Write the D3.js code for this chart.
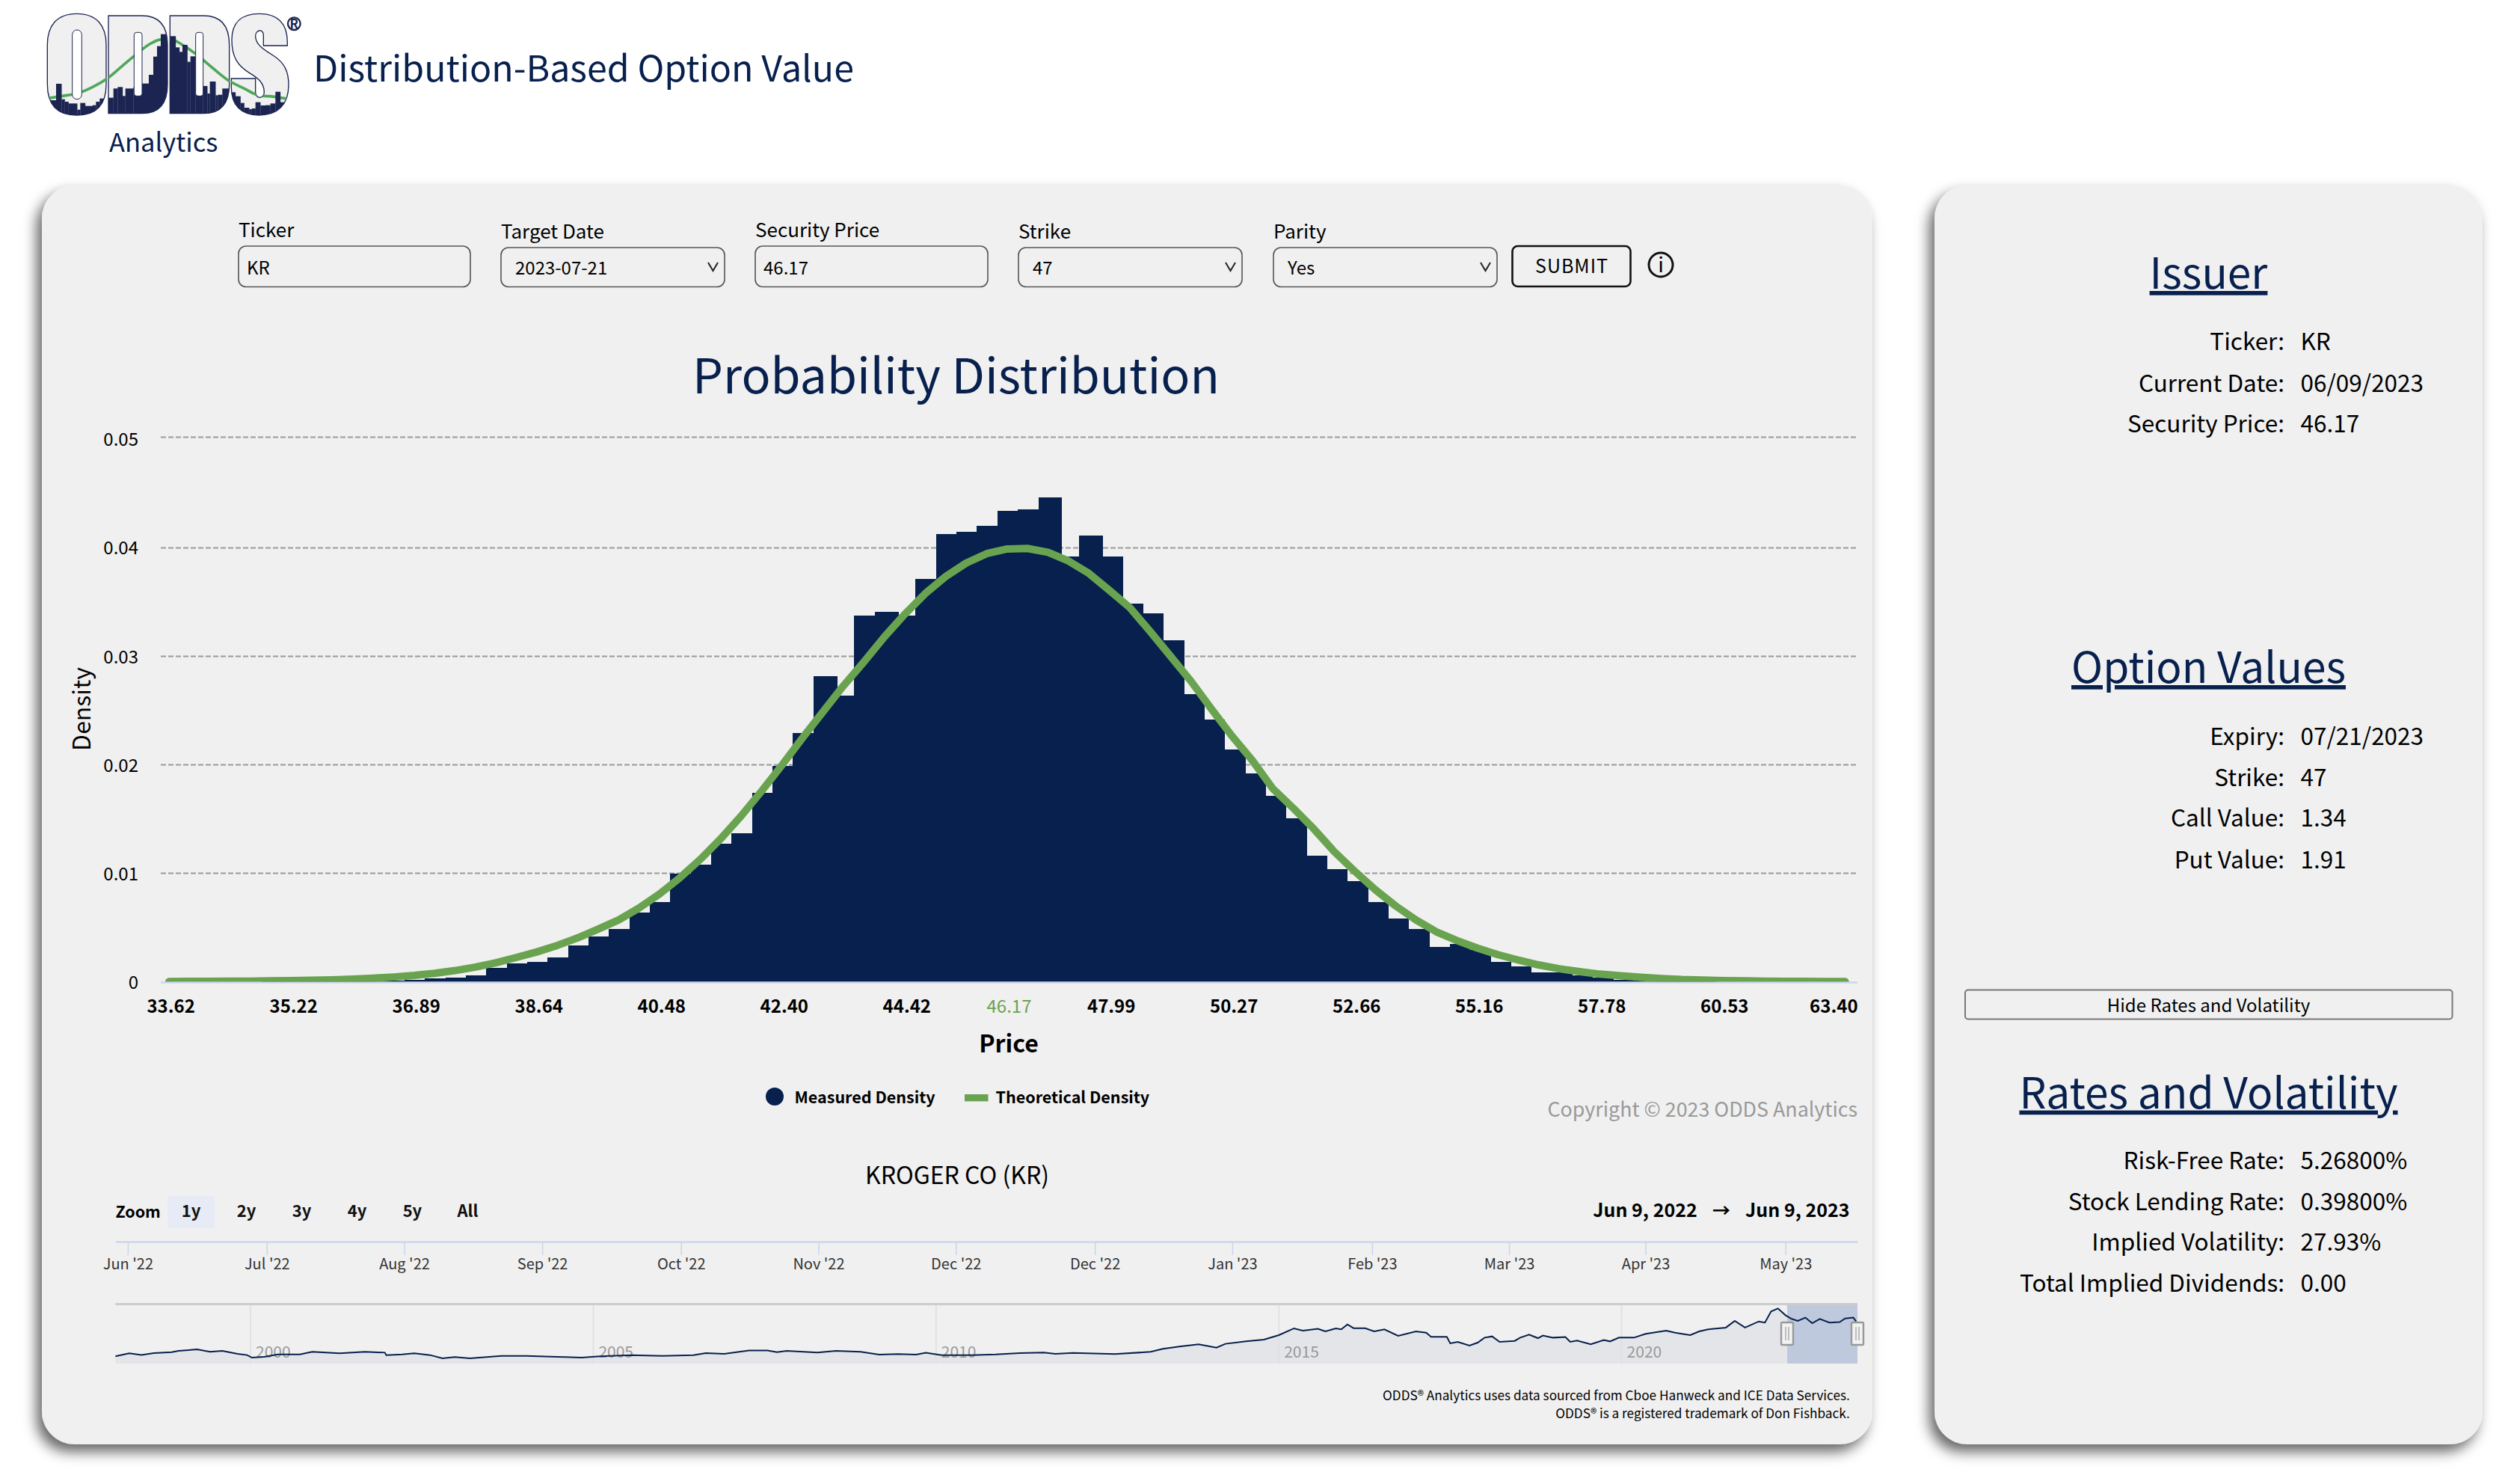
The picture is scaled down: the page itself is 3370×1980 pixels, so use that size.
<!DOCTYPE html>
<html>
<head>
<meta charset="utf-8">
<title>Distribution-Based Option Value</title>
<script src="https://cdn.jsdelivr.net/npm/d3@7"></script>
<style>
  body { margin: 0; background: #fff; }
  svg { display: block; }
  text { font-family: "Noto Sans CJK SC", "Noto Sans", sans-serif; }
  .axis path, .axis line { display: none; }
</style>
</head>
<body>
<script>
var W = 3370, H = 1980;
var NAVY = '#07204d', GREEN = '#6aa350', PANEL = '#f0f0f0';

// chart values
var measuredDensity = [0, 0, 0, 0, 0, 0.00002, 0.00003, 0.00005, 0.00006, 0.00008, 0.0001, 0.00012, 0.0002, 0.0003, 0.0004,
  0.00059, 0.00128, 0.00171, 0.00185, 0.00224, 0.00334, 0.00417, 0.00486, 0.00638, 0.00734, 0.00997, 0.0108, 0.01272, 0.01369,
  0.01741, 0.0199, 0.02293, 0.02817, 0.02638, 0.03373, 0.03411, 0.03373, 0.03715, 0.04127, 0.04143, 0.04197, 0.04336, 0.04348,
  0.04459, 0.03921, 0.04113, 0.03921, 0.03484, 0.03395, 0.03148, 0.02654, 0.02417, 0.02141, 0.0192, 0.01714, 0.01508, 0.01163,
  0.01039, 0.00928, 0.00734, 0.00583, 0.00486, 0.00321, 0.00348, 0.00293, 0.00183, 0.00141, 0.00086, 0.00086, 0.00059, 0.00035,
  0.0002, 0.00012, 0.00008, 0.00005, 0.00003, 0, 0, 0, 0, 0, 0, 0];
var theoreticalDensity = [0.00002, 0.00003, 0.00004, 0.00005, 0.00006, 0.00008, 0.0001, 0.00013, 0.00017, 0.00024, 0.00033,
  0.00044, 0.00058, 0.00078, 0.00103, 0.00135, 0.00175, 0.00224, 0.00275, 0.00335, 0.00405, 0.00485, 0.0057, 0.0068, 0.0081,
  0.0096, 0.0113, 0.0132, 0.0153, 0.0176, 0.02, 0.0225, 0.0249, 0.0273, 0.0295, 0.0318, 0.0339, 0.0358, 0.03737, 0.0386,
  0.03947, 0.0399, 0.03995, 0.0396, 0.0388, 0.03765, 0.0361, 0.0345, 0.0323, 0.03, 0.0277, 0.02514, 0.02266, 0.0204, 0.0178,
  0.016, 0.0141, 0.012, 0.0102, 0.0085, 0.007, 0.0057, 0.0046, 0.0038, 0.0031, 0.0025, 0.002, 0.00155, 0.0012, 0.00093,
  0.0007, 0.00055, 0.00042, 0.0003, 0.0002, 0.00015, 0.00011, 0.00008, 0.00006, 0.00004, 0.00003, 0.00002, 0.00001];
var priceTickBins = [0, 6, 12, 18, 24, 30, 36, 41, 46, 52, 58, 64, 70, 76, 82];
var priceTickLabels = ['33.62', '35.22', '36.89', '38.64', '40.48', '42.40', '44.42', '46.17', '47.99', '50.27', '52.66', '55.16', '57.78', '60.53', '63.40'];
var densityTicks = [0, 0.01, 0.02, 0.03, 0.04, 0.05];

var zoomButtons = ['1y', '2y', '3y', '4y', '5y', 'All'];
var rangeTickDates = ['2022-06-11T14', '2022-07-10T17', '2022-08-08T12', '2022-09-06T10', '2022-10-05T12', '2022-11-03T07', '2022-12-02T02',
  '2022-12-31T05', '2023-01-29T00', '2023-02-27T07', '2023-03-28T00', '2023-04-25T14', '2023-05-24T22'];
var rangeTickLabels = ["Jun '22", "Jul '22", "Aug '22", "Sep '22", "Oct '22", "Nov '22", "Dec '22", "Dec '22", "Jan '23", "Feb '23", "Mar '23", "Apr '23", "May '23"];

var navYears = [1998.03, 1998.23, 1998.41, 1998.59, 1998.85, 1998.95, 1999.22, 1999.41, 1999.59, 1999.81, 1999.95, 2000.02, 2000.2, 2000.4,
  2000.72, 2000.9, 2001.3, 2001.67, 2001.96, 2001.98, 2002.21, 2002.39, 2002.62, 2002.8, 2002.98, 2003.2, 2003.66, 2004.02, 2004.47,
  2004.83, 2005.1, 2005.55, 2006.01, 2006.46, 2006.64, 2006.91, 2007.27, 2007.54, 2007.68, 2007.82, 2008.27, 2008.54, 2008.9, 2009.17,
  2009.44, 2009.71, 2009.85, 2010.08, 2010.35, 2010.52, 2010.87, 2011.22, 2011.57, 2011.74, 2012, 2012.61, 2013.13, 2013.31, 2013.57,
  2013.83, 2014.09, 2014.22, 2014.52, 2014.78, 2015, 2015.22, 2015.35, 2015.57, 2015.68, 2015.83, 2015.91, 2016, 2016.09, 2016.26,
  2016.39, 2016.54, 2016.74, 2017, 2017.15, 2017.22, 2017.45, 2017.5, 2017.61, 2017.78, 2017.9, 2018, 2018.11, 2018.22, 2018.44, 2018.52,
  2018.65, 2018.78, 2018.85, 2019, 2019.18, 2019.25, 2019.35, 2019.55, 2019.74, 2019.83, 2019.96, 2020.18, 2020.35, 2020.65, 2020.78,
  2021, 2021.13, 2021.26, 2021.52, 2021.65, 2021.8, 2022, 2022.09, 2022.18, 2022.28, 2022.39, 2022.48, 2022.57, 2022.68, 2022.78,
  2022.89, 2023.03, 2023.18, 2023.26, 2023.38, 2023.42];
var navPrices = [7.4, 10.5, 8.9, 10.7, 11.7, 13, 14.5, 12, 13, 10, 8.7, 6.1, 6.9, 9.4,
  9.4, 12, 10.5, 12, 11.2, 8.7, 9.4, 10.5, 8.7, 5.4, 6.6, 5.4, 7.9, 7.9, 6.9,
  6.1, 7.4, 8.7, 7.9, 8.7, 10.7, 10, 13.3, 13.3, 11.7, 13, 11.2, 13, 12, 9.2,
  9.7, 9.2, 11, 8.7, 8.7, 8.7, 9.4, 10.7, 11.2, 10, 11, 9.7, 12, 15.1, 17.6,
  19.7, 16.3, 20.2, 22.7, 24.5, 29.1, 36, 33.7, 35.5, 32.9, 36, 35, 40.1, 36.2, 36.2,
  32.9, 35, 28.3, 32.9, 31.6, 27.3, 27.3, 20.7, 22.2, 18.4, 21.4, 26.5, 27.8, 22.2, 23.2, 26.5,
  29.6, 26, 28.6, 26.5, 27.1, 22.2, 23.5, 19.7, 24, 22.7, 26.5, 26.5, 30.4, 33.7, 31.6,
  29.1, 32.9, 35, 36.8, 43.6, 36.8, 43.1, 41.9, 53.3, 56.4, 49.5, 45.7, 43.6, 47, 41.3,
  45.7, 41.9, 42.4, 46.2, 47, 43.1];
var navYearTicks = [2000, 2005, 2010, 2015, 2020];

var formFields = [['Ticker', 'KR', 'input'], ['Target Date', '2023-07-21', 'select'], ['Security Price', '46.17', 'input'], ['Strike', '47', 'select'], ['Parity', 'Yes', 'select']];
var issuerRows = [['Ticker:', 'KR'], ['Current Date:', '06/09/2023'], ['Security Price:', '46.17']];
var optionRows = [['Expiry:', '07/21/2023'], ['Strike:', '47'], ['Call Value:', '1.34'], ['Put Value:', '1.91']];
var ratesRows = [['Risk-Free Rate:', '5.26800%'], ['Stock Lending Rate:', '0.39800%'], ['Implied Volatility:', '27.93%'], ['Total Implied Dividends:', '0.00']];

// logo skyline and curve, in the logo's own 1080x480 box
var logoBarEdges = [40, 75, 97, 110, 125, 160, 172, 192, 222, 235, 250, 285, 305, 322, 342, 353, 385, 420, 447, 465, 480, 495, 532, 555, 570, 582, 602, 614, 635, 665, 682, 692, 715, 725, 742, 778, 795, 815, 830, 850, 860, 875, 895, 915, 935, 955, 975, 1010];
var logoBarTops = [372, 306, 368, 378, 385, 410, 383, 395, 392, 378, 365, 362, 325, 319, 355, 325, 320, 305, 270, 197, 155, 107, 115, 160, 178, 150, 218, 196, 310, 315, 345, 297, 352, 350, 325, 340, 356, 383, 402, 408, 405, 380, 393, 392, 385, 338, 380, 380];
var logoCurveX = [40, 100, 160, 220, 280, 340, 400, 450, 495, 540, 590, 640, 700, 770, 830, 880, 950, 1008];
var logoCurveY = [365, 355, 345, 320, 285, 235, 185, 147, 128, 128, 155, 190, 240, 295, 325, 350, 358, 367];

var svg = d3.select('body').append('svg').attr('width', W).attr('height', H).attr('viewBox', [0, 0, W, H]);
var defs = svg.append('defs');

var shadow = defs.append('filter').attr('id', 'panelShadow').attr('x', '-10%').attr('y', '-10%').attr('width', '120%').attr('height', '120%');
shadow.append('feDropShadow').attr('dx', -7).attr('dy', 10).attr('stdDeviation', 9).attr('flood-color', '#000').attr('flood-opacity', 0.6);

function txt(parent, x, y, s, size, o) {
  o = o || {};
  return parent.append('text').attr('x', x).attr('y', y).text(s)
    .attr('font-size', size)
    .attr('fill', o.fill || '#000')
    .attr('font-weight', o.weight || 400)
    .attr('text-anchor', o.anchor || 'start');
}

/* panels */
svg.append('rect').attr('x', 56).attr('y', 248).attr('width', 2448).attr('height', 1683).attr('rx', 44)
  .attr('fill', PANEL).attr('filter', 'url(#panelShadow)');
svg.append('rect').attr('x', 2587).attr('y', 248).attr('width', 733).attr('height', 1683).attr('rx', 44)
  .attr('fill', PANEL).attr('filter', 'url(#panelShadow)');

/* logo */
var logo = svg.append('g').attr('transform', 'translate(50,10) scale(0.3333)');
var letterPaths = [
  'M158 25C240 25 276 75 276 150V308C276 385 240 432 158 432C76 432 40 385 40 308V150C40 75 76 25 158 25Z',
  'M285 33H420C490 33 522 75 522 150V308C522 385 490 425 420 425H285Z',
  'M532 33H667C737 33 770 75 770 150V308C770 385 737 425 667 425H532Z',
  'M890 25C965 25 1003 65 1003 140V153H907V110C907 85 875 88 875 115C875 150 910 170 950 195C990 222 1008 255 1008 310C1008 390 965 432 890 432C815 432 778 390 778 320V285H875V340C875 368 910 368 910 340C910 300 880 280 850 262C805 235 780 200 780 130C780 60 820 25 890 25Z'
];
defs.append('clipPath').attr('id', 'logoClip').selectAll('path').data(letterPaths).join('path').attr('d', function(d){ return d; });
logo.selectAll('path.letter').data(letterPaths).join('path').attr('class', 'letter').attr('d', function(d){ return d; })
  .attr('fill', '#f0f0f0').attr('stroke', '#1c2551').attr('stroke-width', 4);
var logoInner = logo.append('g').attr('clip-path', 'url(#logoClip)');
logoInner.append('path')
  .datum(logoCurveX)
  .attr('d', d3.line().x(function(d){ return d; }).y(function(d, i){ return logoCurveY[i]; }).curve(d3.curveCatmullRom))
  .attr('fill', 'none').attr('stroke', '#4fa85a').attr('stroke-width', 11);
logoInner.selectAll('rect').data(logoBarTops.slice(0, -1)).join('rect')
  .attr('x', function(d, i){ return logoBarEdges[i]; })
  .attr('y', function(d){ return d; })
  .attr('width', function(d, i){ return logoBarEdges[i + 1] - logoBarEdges[i] + 0.5; })
  .attr('height', function(d){ return 440 - d; })
  .attr('fill', '#1c2551');
// slots in the letters
[[140, 90, 38, 278, 19], [388, 100, 32, 255, 10], [635, 100, 30, 255, 10]].forEach(function(s){
  logo.append('rect').attr('x', s[0]).attr('y', s[1]).attr('width', s[2]).attr('height', s[3]).attr('rx', s[4])
    .attr('fill', '#fff').attr('stroke', '#1c2551').attr('stroke-width', 3);
});
logo.append('circle').attr('cx', 1030).attr('cy', 65).attr('r', 25).attr('fill', 'none').attr('stroke', '#1c2551').attr('stroke-width', 7);
txt(logo, 1030, 83, 'R', 50, {anchor: 'middle', fill: '#1c2551', weight: 700});

txt(svg, 419, 109, 'Distribution-Based Option Value', 48.3, {fill: NAVY});
txt(svg, 146, 203, 'Analytics', 34.5, {fill: NAVY});

/* form row */
var fieldBoxes = [[319, 629, 329, 316.7], [670, 969, 331, 319], [1010, 1321, 329, 316.7], [1362, 1661, 331, 319], [1703, 2002, 331, 319]];
formFields.forEach(function(f, i){
  var b = fieldBoxes[i];
  txt(svg, b[0], b[3], f[0], 26, {});
  svg.append('rect').attr('x', b[0]).attr('y', b[2]).attr('width', b[1] - b[0]).attr('height', 383.5 - b[2]).attr('rx', 10)
    .attr('fill', 'none').attr('stroke', '#555').attr('stroke-width', 1.6);
  txt(svg, b[0] + (f[2] == 'select' ? 19 : 11), 366.5, f[1], 24, {});
  if (f[2] == 'select') {
    svg.append('path').attr('d', d3.line()([[b[1] - 22, 351], [b[1] - 15.5, 362], [b[1] - 9, 351]]))
      .attr('fill', 'none').attr('stroke', '#222').attr('stroke-width', 2);
  }
});
svg.append('rect').attr('x', 2022.5).attr('y', 329).attr('width', 158).attr('height', 54).attr('rx', 7)
  .attr('fill', 'none').attr('stroke', '#111').attr('stroke-width', 2.6);
txt(svg, 2102, 365, 'SUBMIT', 25, {anchor: 'middle'}).attr('letter-spacing', 1);
svg.append('circle').attr('cx', 2221).attr('cy', 354).attr('r', 16).attr('fill', 'none').attr('stroke', '#111').attr('stroke-width', 3);
txt(svg, 2221, 364, 'i', 28, {anchor: 'middle'});

txt(svg, 1278.5, 526, 'Probability Distribution', 64.7, {anchor: 'middle', fill: NAVY});

/* distribution chart */
var plotL = 215, plotR = 2484;
var x = d3.scaleBand().domain(d3.range(measuredDensity.length)).range([plotL, plotR]);
var y = d3.scaleLinear().domain([0, 0.04, 0.05]).range([1312.5, 732.5, 584.5]);
var labelY = d3.scaleLinear().domain([0, 0.05]).range([1321.7, 595.7]);
var bw = x.bandwidth();

svg.append('g').selectAll('line').data(densityTicks.slice(1)).join('line')
  .attr('x1', plotL).attr('x2', plotR)
  .attr('y1', function(d){ return y(d); }).attr('y2', function(d){ return y(d); })
  .attr('stroke', '#999').attr('stroke-width', 2).attr('stroke-dasharray', '7 3');

svg.append('g').attr('shape-rendering', 'crispEdges').selectAll('rect').data(measuredDensity).join('rect')
  .attr('x', function(d, i){ return x(i) + (i < 46 ? -2 : 1.4); })
  .attr('width', function(d, i){ return i < 46 ? bw + 4.6 : bw + 0.4; })
  .attr('y', function(d){ return y(d); })
  .attr('height', function(d){ return y(0) - y(d); })
  .attr('fill', NAVY);

svg.append('line').attr('x1', plotL).attr('x2', plotR).attr('y1', 1313.5).attr('y2', 1313.5).attr('stroke', '#ccd6eb').attr('stroke-width', 2.4);

defs.append('clipPath').attr('id', 'plotClip').append('rect').attr('x', plotL).attr('y', 560).attr('width', plotR - plotL).attr('height', 1312.5 - 560);
svg.append('path').datum(theoreticalDensity)
  .attr('clip-path', 'url(#plotClip)')
  .attr('d', d3.line().x(function(d, i){ return x(i) + bw / 2 - 2.7; }).y(function(d){ return y(d); }))
  .attr('fill', 'none').attr('stroke', GREEN).attr('stroke-width', 10).attr('stroke-linecap', 'round').attr('stroke-linejoin', 'round');

var yAxis = svg.append('g').attr('class', 'axis').attr('transform', 'translate(197,0)')
  .call(d3.axisLeft(y).tickValues(densityTicks).tickSize(0).tickPadding(12).tickFormat(function(d){ return d === 0 ? '0' : d3.format('.2f')(d); }));
yAxis.selectAll('text').attr('font-size', 24).attr('fill', '#000').attr('y', 0)
  .attr('dy', function(d){ return labelY(d) - y(d); }).attr('font-family', '"Noto Sans CJK SC"');

var xAxis = svg.append('g').attr('class', 'axis').attr('transform', 'translate(0,1334)')
  .call(d3.axisBottom(x).tickValues(priceTickBins).tickSize(0).tickPadding(0).tickFormat(function(d, i){ return priceTickLabels[i]; }));
xAxis.selectAll('text')
  .attr('font-size', 24).attr('font-weight', function(d){ return d == 41 ? 400 : 700; })
  .attr('fill', function(d){ return d == 41 ? GREEN : '#000'; })
  .attr('y', 19.5).attr('dy', 0).attr('font-family', '"Noto Sans CJK SC"')
  .attr('dx', function(d){ return d == 82 ? -18 : 0; });

txt(svg, 1349, 1406.7, 'Price', 32, {anchor: 'middle', weight: 700});
txt(svg, 121, 948, 'Density', 32, {anchor: 'middle'}).attr('transform', 'rotate(-90 121 948)');

/* legend */
svg.append('circle').attr('cx', 1036).attr('cy', 1466).attr('r', 12).attr('fill', NAVY);
txt(svg, 1062.5, 1475, 'Measured Density', 21.5, {weight: 700});
svg.append('rect').attr('x', 1290).attr('y', 1463).attr('width', 31.5).attr('height', 9.4).attr('fill', GREEN);
txt(svg, 1331.5, 1475, 'Theoretical Density', 21.5, {weight: 700});
txt(svg, 2484, 1493.3, 'Copyright \u00a9 2023 ODDS Analytics', 26.8, {anchor: 'end', fill: '#999'});

/* range selector */
txt(svg, 1280, 1582.7, 'KROGER CO (KR)', 32, {anchor: 'middle'});
txt(svg, 154.4, 1628, 'Zoom', 21.5, {weight: 700});
var zoomX = d3.scalePoint().domain(zoomButtons).range([255.6, 625.4]);
svg.append('rect').attr('x', 224).attr('y', 1599.5).attr('width', 63).attr('height', 43).attr('rx', 3).attr('fill', '#e6ebf5');
svg.append('g').selectAll('text').data(zoomButtons).join('text')
  .attr('x', function(d){ return zoomX(d); }).attr('y', 1627).attr('text-anchor', 'middle')
  .attr('font-size', 22).attr('font-weight', 700).attr('fill', '#111').text(function(d){ return d; });
txt(svg, 2269.7, 1626.7, 'Jun 9, 2022', 25, {anchor: 'end', weight: 700});
txt(svg, 2302, 1626.7, '\u2192', 24, {anchor: 'middle', weight: 700});
txt(svg, 2473.5, 1626.7, 'Jun 9, 2023', 25, {anchor: 'end', weight: 700});

var parseDay = d3.utcParse('%Y-%m-%d');
var parseTick = d3.utcParse('%Y-%m-%dT%H');
var tRange = d3.scaleUtc().domain([parseDay('2022-06-09'), parseDay('2023-06-09')]).range([154.4, 2484]);
var rangeAxis = svg.append('g').attr('transform', 'translate(0,1660)')
  .call(d3.axisBottom(tRange).tickValues(rangeTickDates.map(parseTick)).tickSizeInner(18).tickSizeOuter(0).tickPadding(0)
    .tickFormat(function(d, i){ return rangeTickLabels[i]; }));
rangeAxis.select('.domain').attr('stroke', '#ccd6eb').attr('stroke-width', 2.4);
rangeAxis.selectAll('line').attr('stroke', '#ccd6eb').attr('stroke-width', 1.6);
rangeAxis.selectAll('text').attr('font-size', 20).attr('fill', '#333').attr('y', 36.7).attr('dy', 0).attr('font-family', '"Noto Sans CJK SC"');

/* navigator */
var navX = d3.scaleLinear().domain([1998.03, 2023.44]).range([154.4, 2484]);
var navY = d3.scaleLinear().domain([0, 60]).range([1823, 1744.6]);
var navTop = 1744, navBot = 1823;

svg.append('path').datum(navPrices)
  .attr('d', d3.area().x(function(d, i){ return navX(navYears[i]); }).y0(navBot).y1(function(d){ return navY(d); }))
  .attr('fill', '#e4e5e8');
svg.append('g').selectAll('line').data(navYearTicks).join('line')
  .attr('x1', function(d){ return navX(d); }).attr('x2', function(d){ return navX(d); })
  .attr('y1', navTop).attr('y2', navBot).attr('stroke', '#dfdfe2').attr('stroke-width', 1.6);
svg.append('g').selectAll('text').data(navYearTicks).join('text')
  .attr('x', function(d){ return navX(d) + 7; }).attr('y', 1815).attr('font-size', 21).attr('fill', '#999').text(function(d){ return d; });
svg.append('rect').attr('x', 2390).attr('y', navTop).attr('width', 94).attr('height', navBot - navTop).attr('fill', '#bfc9dd');
svg.append('path').datum(navPrices)
  .attr('d', d3.line().x(function(d, i){ return navX(navYears[i]); }).y(function(d){ return navY(d); }))
  .attr('fill', 'none').attr('stroke', NAVY).attr('stroke-width', 2);
svg.append('line').attr('x1', 154.4).attr('x2', 2484).attr('y1', navTop - 0.5).attr('y2', navTop - 0.5).attr('stroke', '#ccc').attr('stroke-width', 3);

[2390, 2484].forEach(function(hx){
  svg.append('rect').attr('x', hx - 8).attr('y', 1768).attr('width', 16).attr('height', 30).attr('rx', 1.5)
    .attr('fill', '#f2f2f2').attr('stroke', '#999').attr('stroke-width', 2.4);
  [-2, 2].forEach(function(dx){
    svg.append('line').attr('x1', hx + dx).attr('x2', hx + dx).attr('y1', 1774).attr('y2', 1792).attr('stroke', '#999').attr('stroke-width', 1.2);
  });
});

txt(svg, 2473.8, 1871.7, 'ODDS\u00ae Analytics uses data sourced from Cboe Hanweck and ICE Data Services.', 17.2, {anchor: 'end'});
txt(svg, 2473.8, 1895.7, 'ODDS\u00ae is a registered trademark of Don Fishback.', 17.2, {anchor: 'end'});

/* right panel */
function section(title, titleY, rows, rowYs) {
  txt(svg, 2953.5, titleY, title, 56.8, {anchor: 'middle', fill: NAVY}).style('text-decoration', 'underline');
  rows.forEach(function(r, i){
    txt(svg, 3055, rowYs[i], r[0], 31.5, {anchor: 'end'});
    txt(svg, 3076.5, rowYs[i], r[1], 31.5, {});
  });
}
section('Issuer', 386, issuerRows, [468, 524, 578]);
section('Option Values', 913, optionRows, [996, 1051, 1105, 1160.6]);
section('Rates and Volatility', 1481.6, ratesRows, [1563, 1618, 1672.4, 1727.4]);

svg.append('rect').attr('x', 2628).attr('y', 1323.5).attr('width', 651.5).attr('height', 39).attr('rx', 4)
  .attr('fill', 'none').attr('stroke', '#777').attr('stroke-width', 2);
txt(svg, 2953.5, 1352.5, 'Hide Rates and Volatility', 24, {anchor: 'middle'});
</script>
</body>
</html>
